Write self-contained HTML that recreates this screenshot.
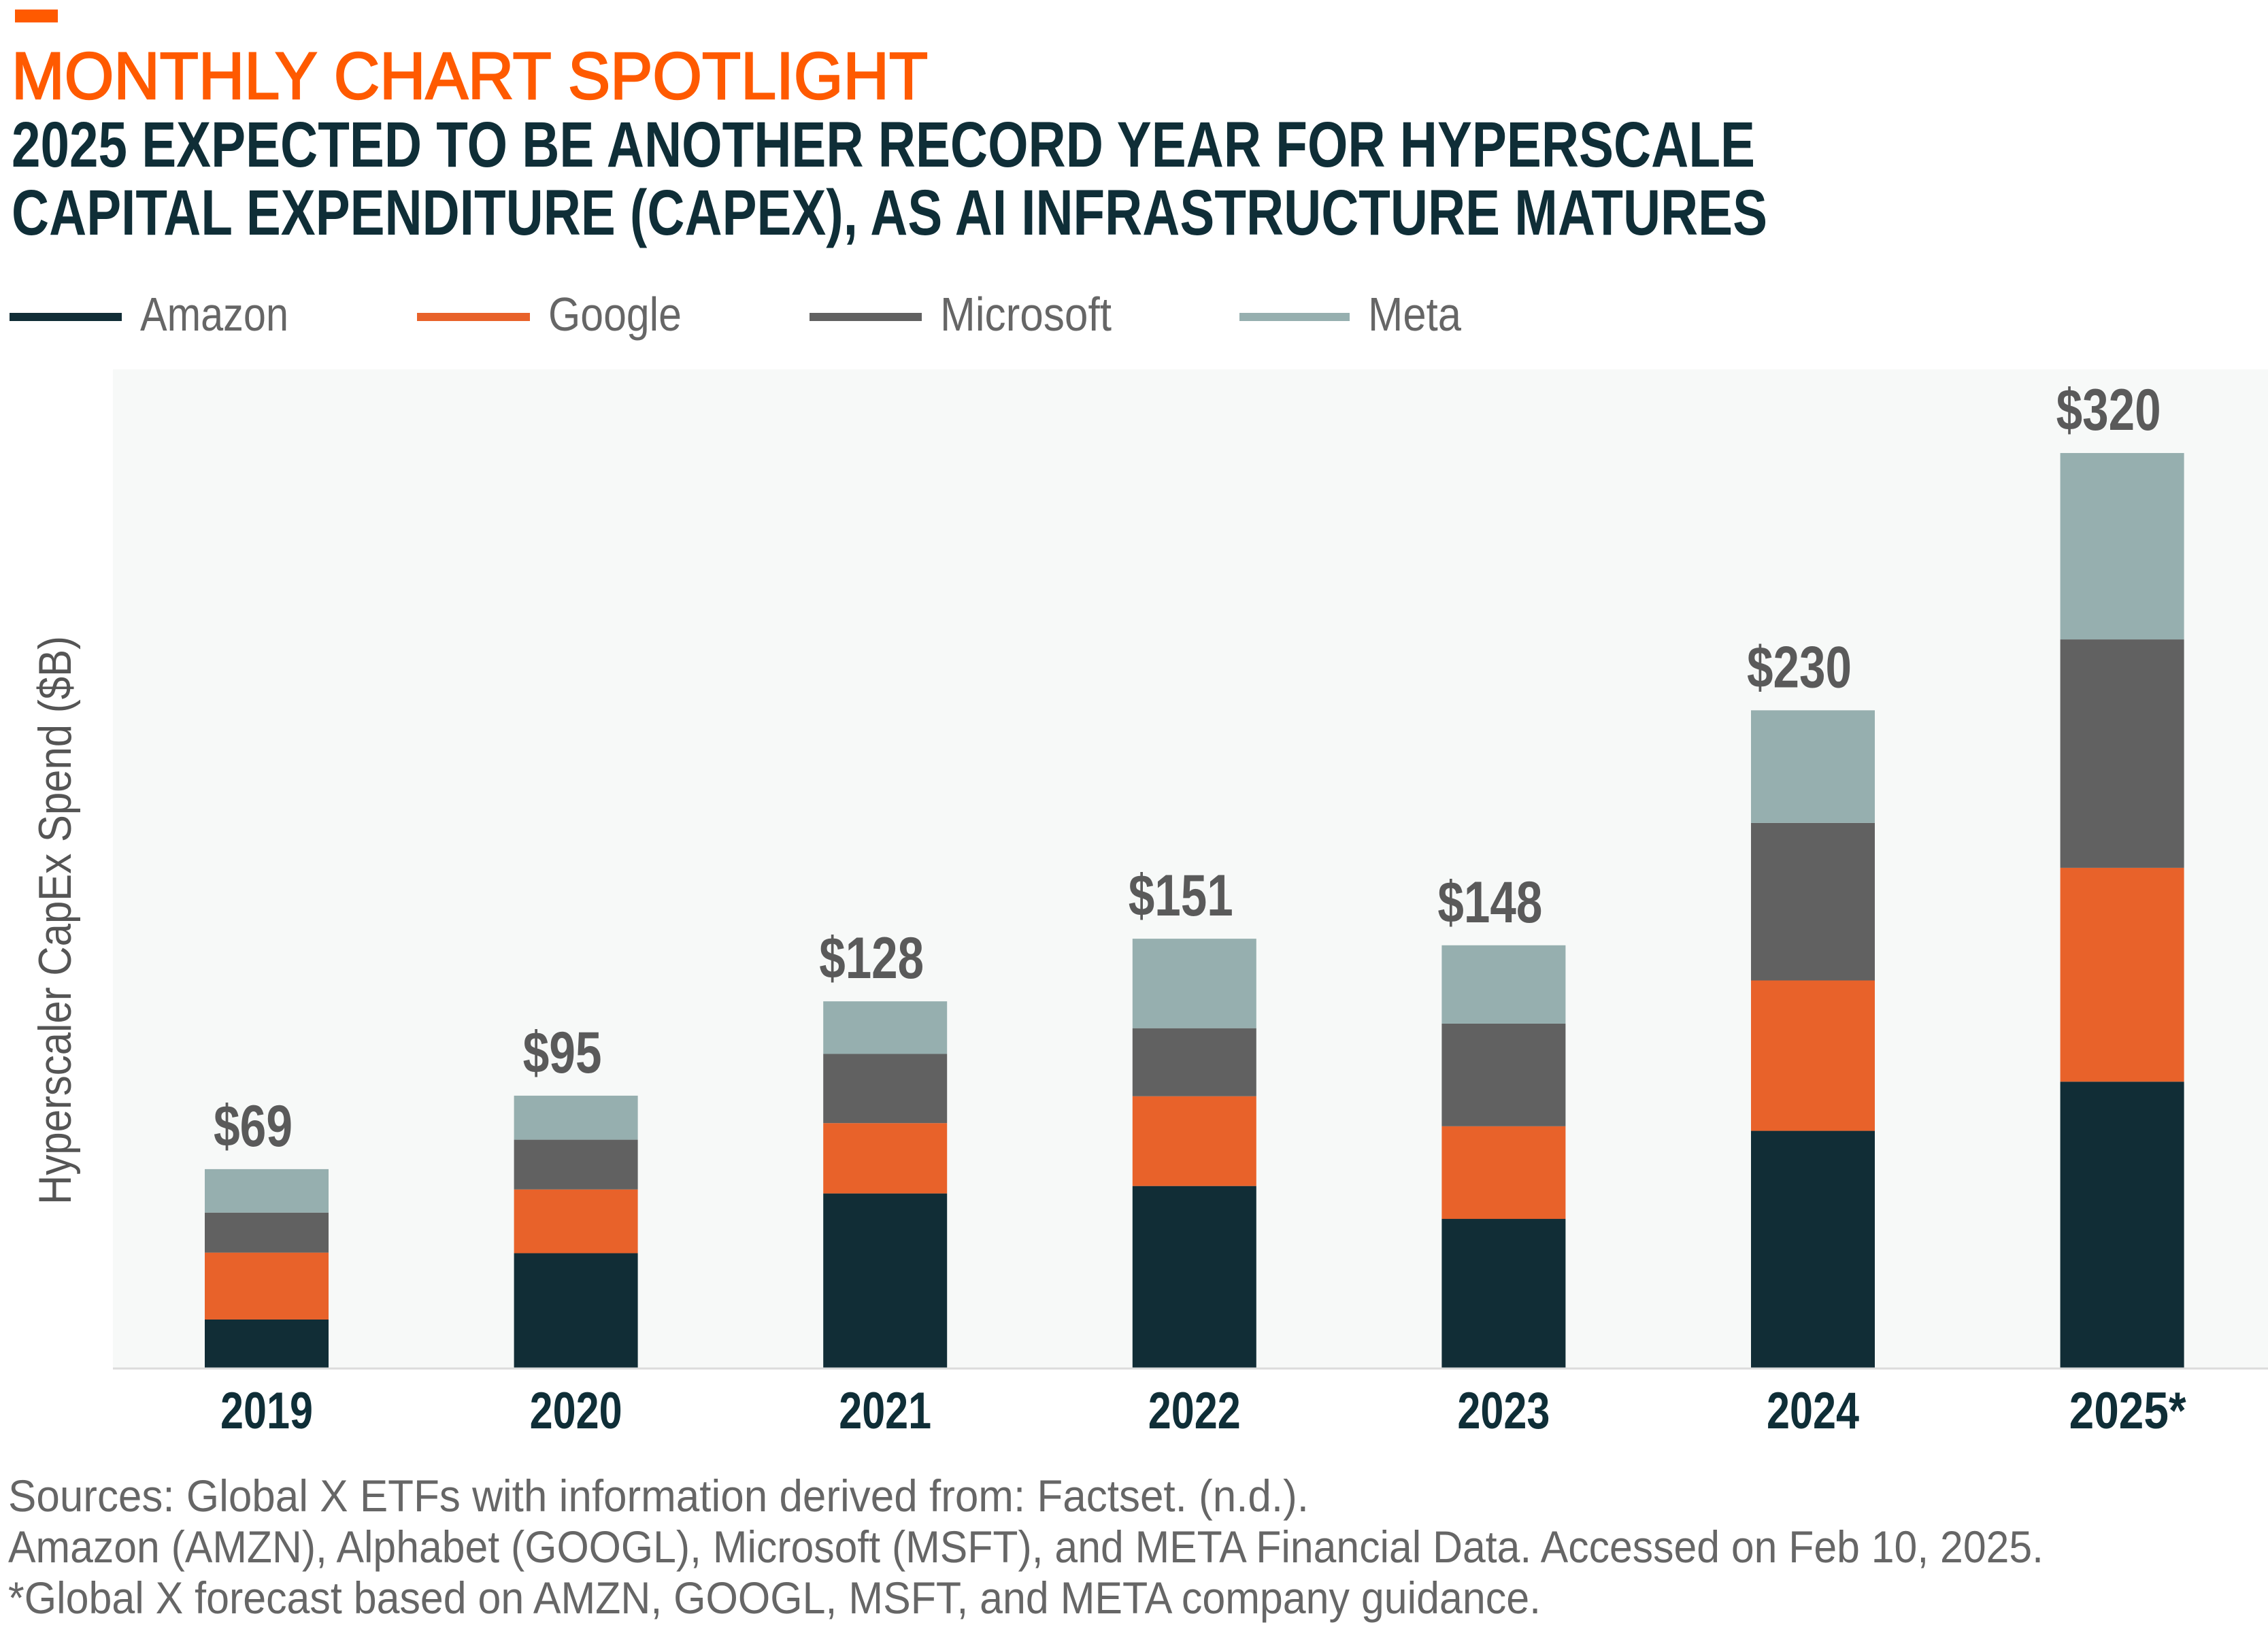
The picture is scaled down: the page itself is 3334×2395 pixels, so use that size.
<!DOCTYPE html>
<html><head><meta charset="utf-8"><style>
html,body{margin:0;padding:0;background:#fff;width:3334px;height:2395px;overflow:hidden}
svg{display:block;font-family:"Liberation Sans",sans-serif}
</style></head><body>
<svg id="chart" width="3334" height="2395" viewBox="0 0 3334 2395" xmlns="http://www.w3.org/2000/svg">
<rect x="22" y="14" width="63" height="19" fill="#ff5a00"/>
<text x="17" y="145" font-size="97" fill="#ff5a00" stroke="#ff5a00" stroke-width="2.5" textLength="1347" lengthAdjust="spacingAndGlyphs">MONTHLY CHART SPOTLIGHT</text>
<text x="17" y="245" font-size="95" font-weight="bold" fill="#0f2e37" textLength="2563" lengthAdjust="spacingAndGlyphs">2025 EXPECTED TO BE ANOTHER RECORD YEAR FOR HYPERSCALE</text>
<text x="17" y="345" font-size="95" font-weight="bold" fill="#0f2e37" textLength="2581" lengthAdjust="spacingAndGlyphs">CAPITAL EXPENDITURE (CAPEX), AS AI INFRASTRUCTURE MATURES</text>
<g id="legend"></g>
<rect x="166" y="543" width="3168" height="1468" fill="#f7f9f8"/>
<g id="bars"></g>
<line x1="166" y1="2012" x2="3334" y2="2012" stroke="#dcdcdc" stroke-width="3"/>
<text transform="translate(104,1353) rotate(-90)" text-anchor="middle" font-size="68" fill="#555" textLength="836" lengthAdjust="spacingAndGlyphs">Hyperscaler CapEx Spend ($B)</text>
<text x="12" y="2222" font-size="66" fill="#666" textLength="1912" lengthAdjust="spacingAndGlyphs">Sources: Global X ETFs with information derived from: Factset. (n.d.).</text>
<text x="12" y="2297" font-size="66" fill="#666" textLength="2992" lengthAdjust="spacingAndGlyphs">Amazon (AMZN), Alphabet (GOOGL), Microsoft (MSFT), and META Financial Data. Accessed on Feb 10, 2025.</text>
<text x="12" y="2372" font-size="66" fill="#666" textLength="2253" lengthAdjust="spacingAndGlyphs">*Global X forecast based on AMZN, GOOGL, MSFT, and META company guidance.</text>
</svg>
<script>
const categories = ["2019","2020","2021","2022","2023","2024","2025*"];
const amazon = [16.9, 40.1, 61, 63.6, 52.1, 82.9, 100.1];
const google = [23.4, 22.3, 24.6, 31.4, 32.4, 52.6, 74.8];
const microsoft = [14.0, 17.4, 24.2, 23.8, 35.9, 55.1, 79.9];
const meta = [15.2, 15.4, 18.4, 31.3, 27.4, 39.4, 65.2];
const totalLabels = ["$69","$95","$128","$151","$148","$230","$320"];
const seriesNames = ["Amazon","Google","Microsoft","Meta"];

const NS = "http://www.w3.org/2000/svg";
const colors = ["#112d36","#e8622a","#616161","#96afaf"];
const series = [amazon, google, microsoft, meta];
const baseY = 2011, pxPerUnit = 4.203;
const x0 = 392, step = 454.6, barW = 182;
function xScale(i){ return x0 + i*step; }
function yScale(v){ return baseY - v*pxPerUnit; }

const bars = document.getElementById('bars');
categories.forEach((cat, i) => {
  let cum = 0;
  series.forEach((s, k) => {
    const r = document.createElementNS(NS, 'rect');
    const top = yScale(cum + s[i]);
    r.setAttribute('x', xScale(i) - barW/2);
    r.setAttribute('y', top);
    r.setAttribute('width', barW);
    r.setAttribute('height', yScale(cum) - top);
    r.setAttribute('fill', colors[k]);
    
    
    bars.appendChild(r);
    cum += s[i];
  });
  const t = document.createElementNS(NS, 'text');
  t.setAttribute('x', xScale(i) - 20);
  t.setAttribute('y', yScale(cum) - 34);
  t.setAttribute('text-anchor', 'middle');
  t.setAttribute('font-size', '86');
  t.setAttribute('font-weight', 'bold');
  t.setAttribute('fill', '#5a5a5a');
  t.setAttribute('textLength', 40 + 38*(totalLabels[i].length-1));
  t.setAttribute('lengthAdjust', 'spacingAndGlyphs');
  t.textContent = totalLabels[i];
  
  
  bars.appendChild(t);
  const xl = document.createElementNS(NS, 'text');
  xl.setAttribute('x', xScale(i) - (cat.length > 4 ? -8 : 0));
  xl.setAttribute('y', 2100);
  xl.setAttribute('text-anchor', 'middle');
  xl.setAttribute('font-size', '76');
  xl.setAttribute('font-weight', 'bold');
  xl.setAttribute('fill', '#0f2e37');
  xl.setAttribute('textLength', cat.length > 4 ? 172 : 136);
  xl.setAttribute('lengthAdjust', 'spacingAndGlyphs');
  xl.textContent = cat;
  
  
  bars.appendChild(xl);
});

const legend = document.getElementById('legend');
const legLineX = [14, 613, 1190, 1822];
const legLineW = [165, 166, 165, 162];
const legTextW = [218, 196, 252, 137];
seriesNames.forEach((n, k) => {
  const l = document.createElementNS(NS, 'rect');
  l.setAttribute('x', legLineX[k]);
  l.setAttribute('y', 460);
  l.setAttribute('width', legLineW[k]);
  l.setAttribute('height', 12);
  l.setAttribute('fill', colors[k]);
  
  
  legend.appendChild(l);
  const t = document.createElementNS(NS, 'text');
  t.setAttribute('x', legLineX[k] + legLineW[k] + 27);
  t.setAttribute('y', 486);
  t.setAttribute('font-size', '70');
  t.setAttribute('fill', '#666');
  t.setAttribute('textLength', legTextW[k]);
  t.setAttribute('lengthAdjust', 'spacingAndGlyphs');
  t.textContent = n;
  
  
  legend.appendChild(t);
});
</script>
</body></html>
